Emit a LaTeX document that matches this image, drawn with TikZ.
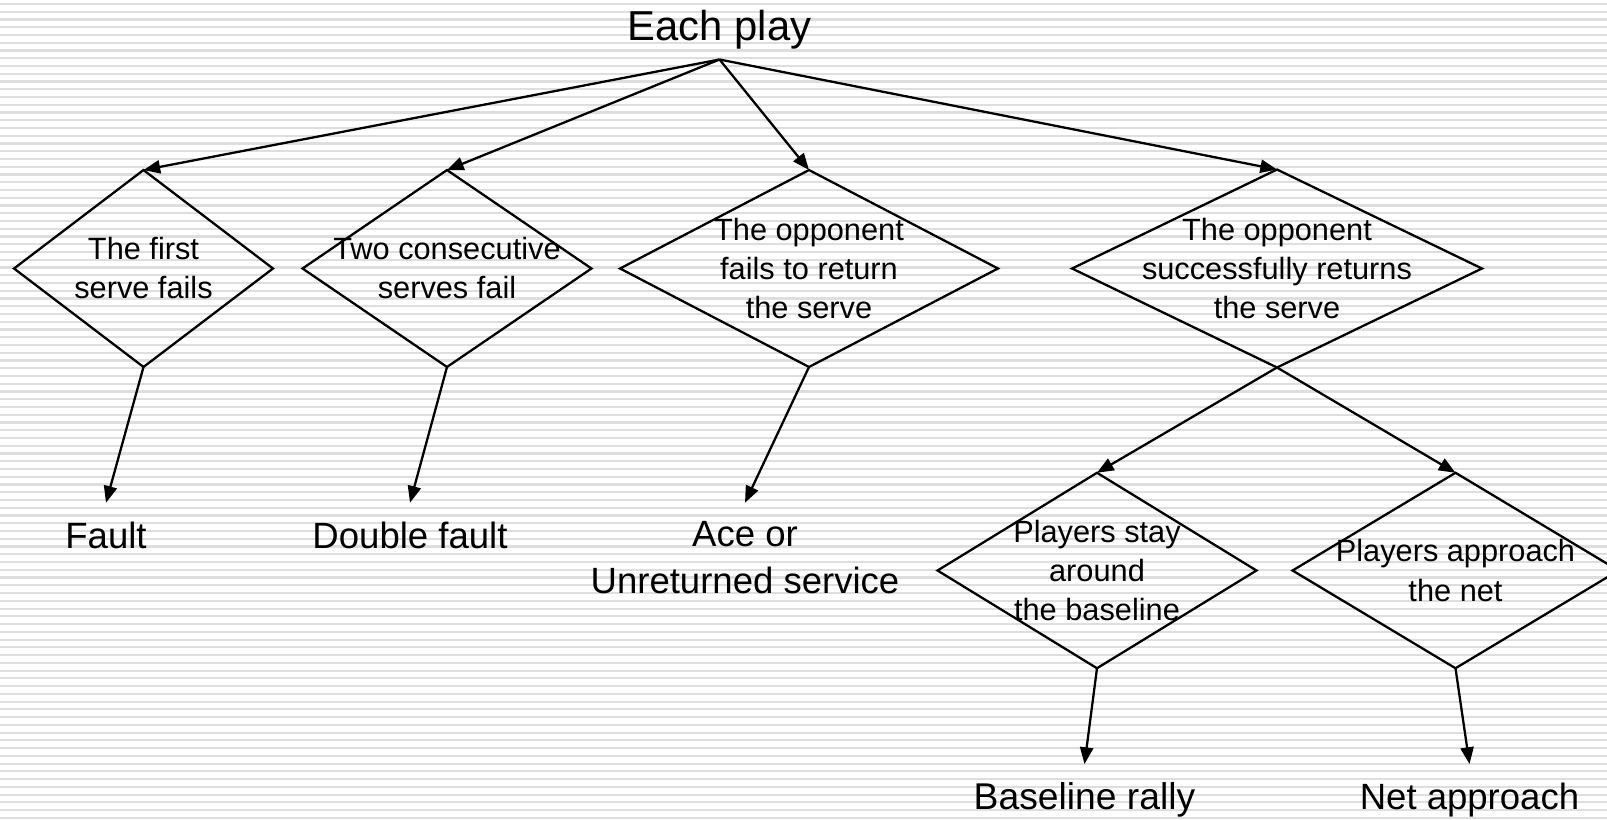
\documentclass[tikz,border=0pt]{standalone}
\usepackage{fontspec}
\setmainfont{Liberation Sans}
\usetikzlibrary{shapes.geometric,arrows.meta}
\begin{document}
\begin{tikzpicture}[x=0.02cm,y=-0.02cm,
  stripe/.style={line width=1.15pt,draw=black!13},
  decision/.style={shape=diamond,draw,line width=1.3pt,inner sep=0pt,outer sep=0pt},
  dtext/.style={font=\fontsize{17.5}{22.2}\selectfont,align=center,inner sep=0pt},
  leaf/.style={font=\fontsize{20.8}{26.3}\selectfont,align=center,inner xsep=2pt,inner ysep=10.8pt,outer sep=0pt,anchor=north},
  flow/.style={line width=1.3pt,-{Triangle[length=9.5pt,width=7.5pt]}}]

% page frame
\useasboundingbox (0,0) rectangle (1607,819);
\clip (0,0) rectangle (1607,819);
\fill[white] (0,0) rectangle (1607,819);

% ruled background
\foreach \i in {0,...,105}
  \draw[stripe] (0,4+\i*7.75) -- (1607,4+\i*7.75);

% root
\node[font=\fontsize{23.8}{28}\selectfont,anchor=south,inner xsep=2pt,inner ysep=6.1pt,outer sep=0pt] (root) at (719.5,59.5) {Each play};

% first row of decisions
\node[decision,minimum width=5.18cm,minimum height=3.94cm,
      label={[dtext]center:{The first\\serve fails}}] (d1) at (143.5,268.5) {};
\node[decision,minimum width=5.78cm,minimum height=3.94cm,
      label={[dtext]center:{Two consecutive\\serves fail}}] (d2) at (447,268.5) {};
\node[decision,minimum width=7.56cm,minimum height=3.94cm,
      label={[dtext]center:{The opponent\\fails to return\\the serve}}] (d3) at (809,268.5) {};
\node[decision,minimum width=8.2cm,minimum height=3.96cm,
      label={[dtext]center:{The opponent\\successfully returns\\the serve}}] (d4) at (1277,268.5) {};

% second row of decisions
\node[decision,minimum width=6.38cm,minimum height=3.91cm,
      label={[dtext]center:{Players stay\\around\\the baseline}}] (d5) at (1097,570.5) {};
\node[decision,minimum width=6.52cm,minimum height=3.91cm,
      label={[dtext]center:{Players approach\\the net}}] (d6) at (1455.5,570.5) {};

% outcomes
\node[leaf] (fault) at (106,502.7) {Fault};
\node[leaf] (dfault) at (410,502.7) {Double fault};
\node[leaf] (ace) at (745,502.7) {Ace or\\Unreturned service};
\node[leaf,font=\fontsize{21.2}{26.3}\selectfont] (rally) at (1084.5,764) {Baseline rally};
\node[leaf] (net) at (1469.5,764) {Net approach};

% connectors
\draw[flow] (root.south) -- (d1.north);
\draw[flow] (root.south) -- (d2.north);
\draw[flow] (root.south) -- (d3.north);
\draw[flow] (root.south) -- (d4.north);
\draw[flow] (d4.south) -- (d5.north);
\draw[flow] (d4.south) -- (d6.north);
\draw[flow] (d1.south) -- (fault.north);
\draw[flow] (d2.south) -- (dfault.north);
\draw[flow] (d3.south) -- (ace.north);
\draw[flow] (d5.south) -- (rally.north);
\draw[flow] (d6.south) -- (net.north);
\end{tikzpicture}
\end{document}
